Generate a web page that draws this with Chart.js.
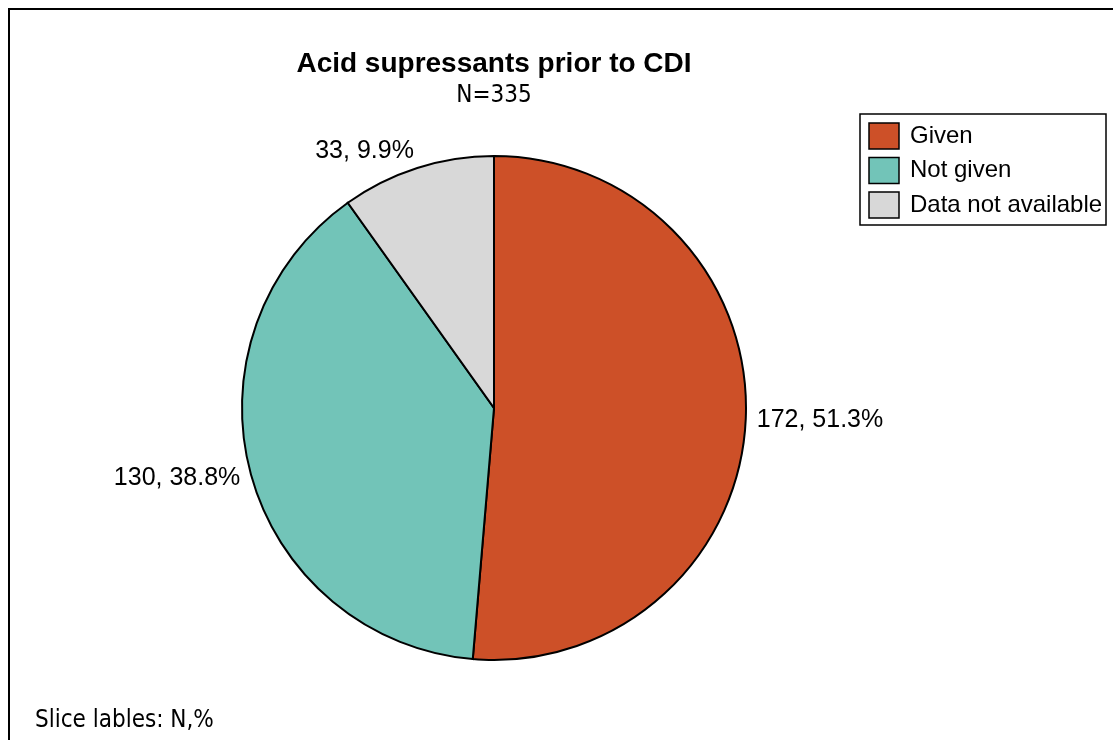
<!DOCTYPE html>
<html>
<head>
<meta charset="utf-8">
<title>Acid supressants prior to CDI</title>
<script src="https://cdn.jsdelivr.net/npm/chart.js@4/dist/chart.umd.min.js"></script>
<style>
  html, body { margin: 0; padding: 0; background: #fff; }
  #wrap { width: 1113px; height: 740px; }
</style>
</head>
<body>
<div id="wrap"><canvas id="pie"></canvas></div>
<script>
const categories = ['Given', 'Not given', 'Data not available'];
const counts = [172, 130, 33];
const sliceColors = ['#cd5028', '#72c4b8', '#d8d8d8'];
const titleText = 'Acid supressants prior to CDI';
const subtitleText = 'N=335';
const footnoteText = 'Slice lables: N,%';

const total = counts.reduce((a, b) => a + b, 0);

// frame, title, legend box and slice labels are painted around the pie
const decorations = {
    id: 'decorations',
    beforeDraw(chart) {
        const c = chart.ctx;
        c.save();
        c.fillStyle = '#fff';
        c.fillRect(0, 0, chart.width, chart.height);
        c.strokeStyle = '#000';
        c.lineWidth = 2;
        c.strokeRect(9, 9, 1300, 1000);
        c.restore();
    },
    afterDraw(chart) {
        const c = chart.ctx;
        const arcs = chart.getDatasetMeta(0).data;
        const cx = arcs[0].x;
        c.save();
        c.fillStyle = '#000';

        // title + subtitle
        c.textAlign = 'center';
        c.textBaseline = 'alphabetic';
        c.font = 'bold 28px "Liberation Sans", Arial, sans-serif';
        c.fillText(titleText, cx, 72);
        c.font = '24px "DejaVu Sans Condensed", "DejaVu Sans", sans-serif';
        c.fillText(subtitleText, cx, 102);

        // footnote
        c.textAlign = 'left';
        c.fillText(footnoteText, 35, 727);

        // slice labels "N, %"
        c.font = '25px "Liberation Sans", Arial, sans-serif';
        arcs.forEach((arc, i) => {
            const mid = (arc.startAngle + arc.endAngle) / 2;
            const r = arc.outerRadius + 11;
            const cos = Math.cos(mid), sin = Math.sin(mid);
            const x = arc.x + r * cos;
            const y = arc.y + r * sin;
            c.textAlign = cos > 0.25 ? 'left' : (cos < -0.25 ? 'right' : 'center');
            c.textBaseline = sin < -0.7 ? 'alphabetic' : (sin > 0.7 ? 'top' : 'middle');
            const pct = (counts[i] / total * 100).toFixed(1);
            c.fillText(counts[i] + ', ' + pct + '%', x, y + 1);
        });

        // legend
        c.lineWidth = 1.5;
        c.strokeStyle = '#000';
        c.strokeRect(860, 114, 246, 111);
        c.font = '24px "Liberation Sans", Arial, sans-serif';
        c.textAlign = 'left';
        c.textBaseline = 'middle';
        categories.forEach((name, i) => {
            const y = 123 + i * 34.5;
            c.fillStyle = sliceColors[i];
            c.fillRect(869, y, 30, 26);
            c.strokeRect(869, y, 30, 26);
            c.fillStyle = '#000';
            c.fillText(name, 910, y + 13);
        });
        c.restore();
    }
};

const ctx = document.getElementById('pie').getContext('2d');
const pieChart = new Chart(ctx, {
    type: 'pie',
    data: {
        labels: categories,
        datasets: [{
            data: counts,
            backgroundColor: sliceColors,
            borderColor: '#000',
            borderWidth: 2,
            borderJoinStyle: 'miter'
        }]
    },
    options: {
        responsive: true,
        maintainAspectRatio: false,
        animation: false,
        layout: {
            padding: { left: 241, top: 155, right: 366, bottom: 79 }
        },
        plugins: {
            legend: { display: false },
            tooltip: { enabled: false }
        }
    },
    plugins: [decorations]
});
</script>
</body>
</html>
